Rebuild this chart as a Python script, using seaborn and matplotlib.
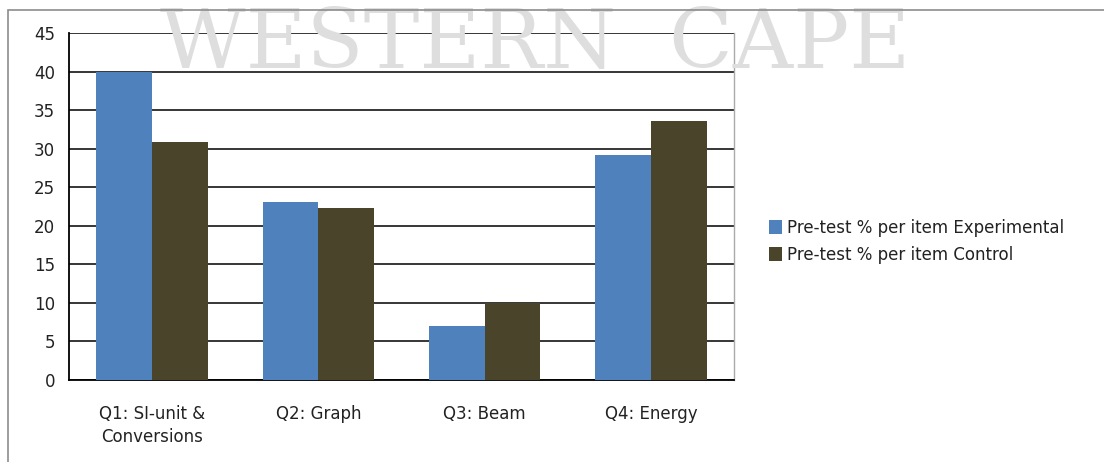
import pandas as pd
import matplotlib.pyplot as plt
import matplotlib.patches as mpatches
import seaborn as sns

categories = ['Q1: SI-unit &\nConversions', 'Q2: Graph', 'Q3: Beam', 'Q4: Energy']
series_names = ['Pre-test % per item Experimental', 'Pre-test % per item Control']
experimental = [40.0, 23.1, 7.0, 29.2]
control = [30.9, 22.3, 10.0, 33.6]
y_ticks = [0, 5, 10, 15, 20, 25, 30, 35, 40, 45]

df = pd.DataFrame({
    'item': categories * 2,
    'series': [series_names[0]] * 4 + [series_names[1]] * 4,
    'value': experimental + control,
})

sns.set_style('white')
plt.rcParams['font.family'] = ['DejaVu Sans']

fig = plt.figure(figsize=(11.04, 4.62), dpi=100)

# faint watermark + outer frame
fig.text(0.485, 0.99, 'WESTERN  CAPE', ha='center', va='top', fontsize=60,
         family='DejaVu Serif', color='#dedede', zorder=0)
fig.patches.append(mpatches.Rectangle((8 / 1104, -0.1), 1.2, 1 - 10 / 462 + 0.1,
                                      transform=fig.transFigure, fill=False,
                                      edgecolor='#8c8c8c', linewidth=1.2, zorder=1))

ax = fig.add_axes([69 / 1104, 1 - 380 / 462, 665 / 1104, 347 / 462])
ax.set_facecolor('none')

sns.barplot(data=df, x='item', y='value', hue='series', hue_order=series_names,
            palette=['#4F81BD', '#4A442A'], width=0.67, saturation=1,
            edgecolor='none', ax=ax, zorder=3)

ax.set_ylim(0, 45)
ax.set_xlim(-0.5, 3.5)
ax.set_yticks(y_ticks)
ax.yaxis.grid(True, color='black', linewidth=1.1, zorder=0)
ax.set_axisbelow(True)
ax.set_xlabel('')
ax.set_ylabel('')

ax.set_xticks([-0.5, 0.5, 1.5, 2.5, 3.5], minor=False)
ax.set_xticklabels([])
ax.set_xticks([0, 1, 2, 3], minor=True)
ax.set_xticklabels(categories, minor=True, fontsize=12, color='#222222',
                   linespacing=1.35)
ax.tick_params(axis='x', which='major', direction='out', length=6, width=1, color='black')
ax.tick_params(axis='x', which='minor', length=0, pad=18)
ax.tick_params(axis='y', direction='out', length=6, width=1, color='black',
               labelsize=12, labelcolor='#222222', pad=4)

for side in ['left', 'bottom']:
    ax.spines[side].set_color('black')
    ax.spines[side].set_linewidth(1.3)
ax.spines['top'].set_visible(False)
ax.spines['right'].set_color('#aaaaaa')
ax.spines['right'].set_linewidth(1)

ax.legend(loc='center left', bbox_to_anchor=(1.03, 0.40), frameon=False,
          fontsize=12, handlelength=0.8, handleheight=0.9, handletextpad=0.3,
          labelspacing=0.55, labelcolor='#222222')

fig.savefig('out.png', dpi=100)
